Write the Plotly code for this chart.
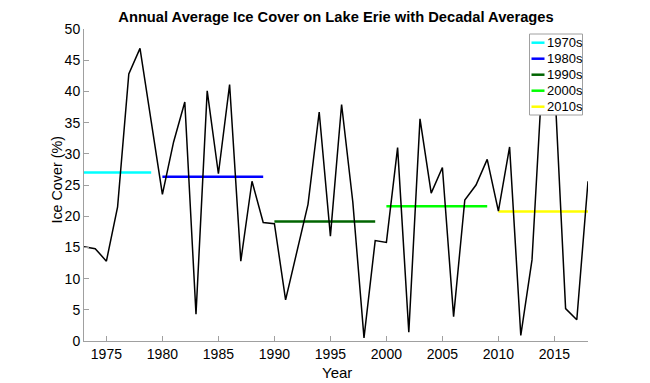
import numpy as np
import plotly.graph_objects as go

years = list(range(1973, 2019))
ice_cover = [15.1, 14.8, 12.8, 21.5, 42.8, 46.9, 35.2,
             23.5, 31.9, 38.3, 4.3, 40.1, 26.8, 41.1, 12.8, 25.6, 19.0,
             18.8, 6.6, 14.0, 21.9, 36.7, 16.8, 37.9, 22.3, 0.5, 16.1,
             15.8, 31.0, 1.4, 35.6, 23.7, 27.8, 3.9, 22.6, 25.0, 29.1,
             20.8, 31.1, 0.9, 13.0, 45.0, 41.9, 5.2, 3.4, 25.6]

decades = ["1970s", "1980s", "1990s", "2000s", "2010s"]
decade_starts = [1970, 1980, 1990, 2000, 2010]
decade_colors = ["#00FFFF", "#0000FF", "#006400", "#00FF00", "#FFFF00"]

yrs = np.array(years)
vals = np.array(ice_cover)

FONT = "Liberation Sans, Arial, Helvetica, sans-serif"
OFF = 8  # page body margin
W, H = 650 - OFF, 383 - OFF
L, T = 84 - OFF, 29 - OFF
PW, PH = 504, 312
R, B = W - L - PW, H - T - PH


def px(xp):  # page pixel x -> paper
    return (xp - OFF - L) / PW


def py(yp):  # page pixel y -> paper
    return (H - B - (yp - OFF)) / PH


fig = go.Figure()
for name, start, col in zip(decades, decade_starts, decade_colors):
    m = (yrs >= start) & (yrs < start + 10)
    dx = yrs[m]
    avg = float(vals[m].mean())
    fig.add_trace(go.Scatter(
        x=[dx.min(), dx.max()], y=[avg, avg], mode="lines", name=name,
        line=dict(color=col, width=2.5), showlegend=False))

fig.add_trace(go.Scatter(x=years, y=ice_cover, mode="lines", name="Ice cover",
                         line=dict(color="black", width=1.5), showlegend=False))

# manual MATLAB-style legend
shapes = [dict(type="rect", xref="paper", yref="paper",
               x0=px(529.5), x1=px(582.5), y0=py(115), y1=py(34),
               line=dict(color="#a0a0a0", width=1), fillcolor="white", layer="above")]
annotations = []
entry_y = [42.7, 58.7, 74.7, 90.7, 106.7]
for name, col, ey in zip(decades, decade_colors, entry_y):
    shapes.append(dict(type="line", xref="paper", yref="paper",
                       x0=px(531.5), x1=px(544.5), y0=py(ey), y1=py(ey),
                       line=dict(color=col, width=2.5), layer="above"))
    annotations.append(dict(text=name, xref="paper", yref="paper", x=px(545), y=py(ey),
                            xanchor="left", yanchor="middle", showarrow=False,
                            font=dict(family=FONT, size=13, color="black")))

annotations.append(dict(text="Year", xref="paper", yref="paper", x=px(336.5), y=py(372.5),
                        xanchor="center", yanchor="middle", showarrow=False,
                        font=dict(family=FONT, size=15, color="black")))
annotations.append(dict(text="Ice Cover (%)", xref="paper", yref="paper", x=px(56.5), y=py(180),
                        xanchor="center", yanchor="middle", showarrow=False, textangle=-90,
                        font=dict(family=FONT, size=14.3, color="black")))

fig.update_layout(
    width=W, height=H,
    margin=dict(l=L, r=R, t=T, b=B),
    paper_bgcolor="white", plot_bgcolor="white",
    font=dict(family=FONT, size=13, color="black"),
    title=dict(text="<b>Annual Average Ice Cover on Lake Erie with Decadal Averages</b>",
               x=(L + PW / 2) / W, xanchor="center", y=1 - (17 - OFF) / H, yanchor="middle",
               font=dict(family=FONT, size=14.7, color="black")),
    showlegend=False,
    shapes=shapes,
    annotations=annotations,
)
fig.update_xaxes(range=[1973, 2018], tickvals=[1975, 1980, 1985, 1990, 1995, 2000, 2005, 2010, 2015],
                 ticks="inside", ticklen=5, tickcolor="#a0a0a0", showgrid=False, zeroline=False,
                 showline=True, linecolor="#a0a0a0", linewidth=1, automargin=False,
                 tickfont=dict(family=FONT, size=14))
fig.update_yaxes(range=[0, 50], tickvals=list(range(0, 51, 5)),
                 ticks="inside", ticklen=5, tickcolor="#a0a0a0", showgrid=False, zeroline=False,
                 showline=True, linecolor="#a0a0a0", linewidth=1, automargin=False,
                 tickfont=dict(family=FONT, size=14))

fig.write_html("out.html")
